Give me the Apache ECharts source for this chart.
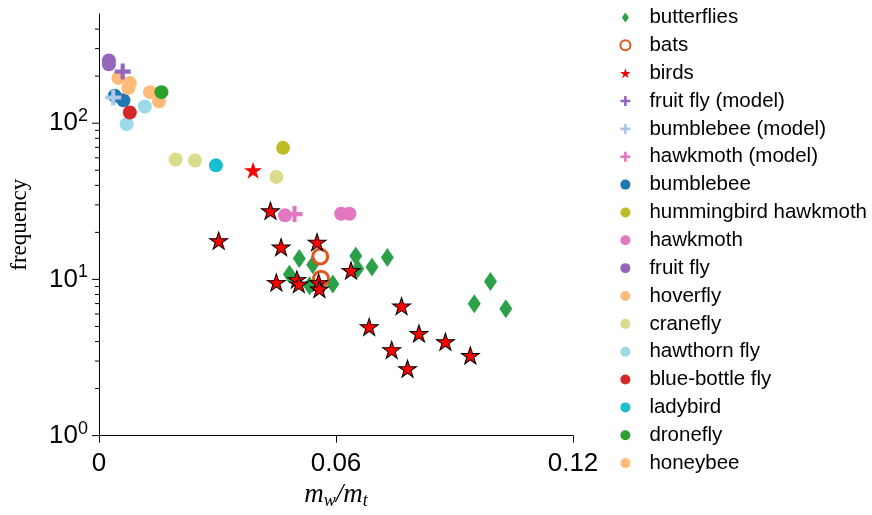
<!DOCTYPE html>
<html>
<head>
<meta charset="utf-8">
<script src="https://cdn.jsdelivr.net/npm/echarts@6/dist/echarts.min.js"></script>
<style>html,body{margin:0;padding:0;background:#fff;}#c{width:872px;height:515px;}</style>
</head>
<body>
<div id="c"></div>
<script>
// ---- data ----
const seriesNames = ['butterflies','bats','birds','fruit fly (model)','bumblebee (model)','hawkmoth (model)','bumblebee','hummingbird hawkmoth','hawkmoth','fruit fly','hoverfly','cranefly','hawthorn fly','blue-bottle fly','ladybird','dronefly','honeybee'];

const butterfliesX = [0.0507,0.0541,0.0482,0.0533,0.0592,0.0650,0.0655,0.0691,0.0730,0.0991,0.0950,0.1030];
const butterfliesY = [13.6,12.4,10.8,9.12,9.34,14.1,11.7,12.0,13.8,9.71,6.98,6.49];
const batsX = [0.0560,0.0562];
const batsY = [14.0,10.1];
const birdsX = [0.0390,0.0434,0.0303,0.0461,0.0552,0.0638,0.0449,0.0501,0.0506,0.0556,0.0558,0.0766,0.0684,0.0810,0.0877,0.0741,0.0940,0.0781];
const birdsY = [49.9,27.5,17.7,16.1,17.3,11.4,9.57,10.0,9.34,9.57,8.68,6.75,4.97,4.51,3.99,3.54,3.26,2.68];
const fruitFlyModelX = [0.0060];
const fruitFlyModelY = [214];
const bumblebeeModelX = [0.0036];
const bumblebeeModelY = [146];
const hawkmothModelX = [0.0495];
const hawkmothModelY = [26.2];
const bumblebeeX = [0.0040,0.0062];
const bumblebeeY = [150,140];
const hummingbirdX = [0.0466];
const hummingbirdY = [69.5];
const hawkmothX = [0.0471,0.0613,0.0634];
const hawkmothY = [25.7,26.3,26.3];
const fruitFlyX = [0.0025,0.0025];
const fruitFlyY = [252,238];
const hoverflyX = [0.0129,0.0152];
const hoverflyY = [158,138];
const craneflyX = [0.0194,0.0243,0.0449];
const craneflyY = [58.6,57.7,45.3];
const hawthornX = [0.0116,0.0070];
const hawthornY = [128,98.6];
const blueBottleX = [0.0078];
const blueBottleY = [117];
const ladybirdX = [0.0296];
const ladybirdY = [53.7];
const droneflyX = [0.0158];
const droneflyY = [158];
const honeybeeX = [0.0049,0.0078,0.0074];
const honeybeeY = [195,181,168];

const xTicks = [0, 0.06, 0.12];
const yMajorTicks = [1, 10, 100];
const yMinorTicks = [2,3,4,5,6,7,8,9,20,30,40,50,60,70,80,90,200,300,400];
const yMin = 1, yMax = 500;

// ---- helpers ----
const pts = (xs, ys) => xs.map((x, i) => [x, ys[i]]);
const STAR = 'path://M0,-10 L2.245,-3.09 L9.511,-3.09 L3.633,1.18 L5.878,8.09 L0,3.82 L-5.878,8.09 L-3.633,1.18 L-9.511,-3.09 L-2.245,-3.09 Z';
const PLUS = 'path://M-1.3,-5 H1.3 V-1.3 H5 V1.3 H1.3 V5 H-1.3 V1.3 H-5 V-1.3 H-1.3 Z';
const DIAMOND = 'path://M0,-10 L7,0 L0,10 L-7,0 Z';

function circ(name, xs, ys, color) {
  return { name, type: 'scatter', symbol: 'circle', symbolSize: 14, data: pts(xs, ys),
    itemStyle: { color, opacity: 1 }, z: 2 };
}
function plus(name, xs, ys, color) {
  return { name, type: 'scatter', symbol: PLUS, symbolSize: 16, symbolKeepAspect: true, data: pts(xs, ys),
    itemStyle: { color, opacity: 1 }, z: 4 };
}

const birdsData = birdsX.map((x, i) => i === 0
  ? { value: [x, birdsY[i]] }
  : { value: [x, birdsY[i]], itemStyle: { borderColor: '#000', borderWidth: 1 } });

const series = [
  { name: 'butterflies', type: 'scatter', symbol: 'diamond', symbolSize: [13, 19],
    data: pts(butterfliesX, butterfliesY), itemStyle: { color: '#2ca048', opacity: 1 }, z: 3 },
  { name: 'bats', type: 'scatter', symbol: 'circle', symbolSize: 15,
    data: pts(batsX, batsY), itemStyle: { color: 'rgba(255,255,255,0)', borderColor: '#e0561c', borderWidth: 3, opacity: 1 }, z: 3 },
  { name: 'birds', type: 'scatter', symbol: STAR, symbolSize: [18, 17],
    data: birdsData, itemStyle: { color: '#ff0000', opacity: 1 }, z: 3 },
  plus('fruit fly (model)', fruitFlyModelX, fruitFlyModelY, '#9467bd'),
  plus('bumblebee (model)', bumblebeeModelX, bumblebeeModelY, '#aec7e8'),
  plus('hawkmoth (model)', hawkmothModelX, hawkmothModelY, '#e377c2'),
  circ('bumblebee', bumblebeeX, bumblebeeY, '#1f77b4'),
  circ('hummingbird hawkmoth', hummingbirdX, hummingbirdY, '#bcbd22'),
  circ('hawkmoth', hawkmothX, hawkmothY, '#e377c2'),
  circ('fruit fly', fruitFlyX, fruitFlyY, '#9467bd'),
  circ('hoverfly', hoverflyX, hoverflyY, '#ffbb78'),
  circ('cranefly', craneflyX, craneflyY, '#dbdb8d'),
  circ('hawthorn fly', hawthornX, hawthornY, '#9edae5'),
  circ('blue-bottle fly', blueBottleX, blueBottleY, '#d62728'),
  circ('ladybird', ladybirdX, ladybirdY, '#17becf'),
  circ('dronefly', droneflyX, droneflyY, '#2ca02c'),
  circ('honeybee', honeybeeX, honeybeeY, '#ffbb78'),
  // y-axis tick marks (major + minor) through the axis scale
  { type: 'custom', silent: true, clip: false, z: 1,
    data: yMajorTicks.map(v => [0, v, 7]).concat(yMinorTicks.map(v => [0, v, 4])),
    encode: { x: 0, y: 1 },
    renderItem: function (params, api) {
      const p = api.coord([0, api.value(1)]);
      const len = api.value(2);
      return { type: 'line', shape: { x1: p[0] - len, y1: p[1], x2: p[0], y2: p[1] },
        style: { stroke: '#000', lineWidth: 1 } };
    } }
];

const legendData = seriesNames.map(n => n === 'butterflies' ? { name: n, icon: DIAMOND } : { name: n });

const chart = echarts.init(document.getElementById('c'), null, { renderer: 'canvas' });
chart.setOption({
  animation: false,
  backgroundColor: '#fff',
  grid: { left: 97, right: 299, top: 14, bottom: 76, containLabel: false },
  legend: {
    orient: 'vertical', right: 5, top: 7, padding: 0,
    itemWidth: 38, itemHeight: 10, itemGap: 6.85,
    data: legendData,
    textStyle: { fontFamily: 'Liberation Sans', fontSize: 20.5, color: '#000', lineHeight: 21 }
  },
  xAxis: {
    type: 'value', min: 0, max: 0.12, interval: 0.06,
    splitLine: { show: false },
    axisLine: { onZero: false, lineStyle: { color: '#000', width: 1 } },
    axisTick: { show: true, length: 7, inside: false, lineStyle: { color: '#000' } },
    axisLabel: { fontFamily: 'Liberation Sans', fontSize: 26, color: '#000', margin: 15,
      showMinLabel: true, showMaxLabel: true,
      formatter: v => (Math.abs(v) < 1e-9 ? '0' : String(+v.toFixed(2))) },
    name: '{m|m}{s|w}{m|/m}{s|t}', nameLocation: 'middle', nameGap: 38,
    nameTextStyle: { rich: {
      m: { fontFamily: 'Liberation Serif', fontStyle: 'italic', fontSize: 27, lineHeight: 30, color: '#000' },
      s: { fontFamily: 'Liberation Serif', fontStyle: 'italic', fontSize: 18, lineHeight: 14, verticalAlign: 'bottom', color: '#000' }
    } }
  },
  yAxis: {
    type: 'log', min: yMin, max: yMax, logBase: 10,
    splitLine: { show: false },
    axisLine: { show: true, lineStyle: { color: '#000', width: 1 } },
    axisTick: { show: false },
    minorTick: { show: false },
    axisLabel: {
      margin: 11,
      formatter: function (v) {
        const e = Math.round(Math.log10(v));
        if (Math.abs(Math.pow(10, e) - v) > 1e-6 * v) return '';
        return '{b|10}{s|' + e + '}';
      },
      rich: {
        b: { fontFamily: 'Liberation Sans', fontSize: 26, lineHeight: 32, color: '#000' },
        s: { fontFamily: 'Liberation Sans', fontSize: 18, lineHeight: 14, verticalAlign: 'top', color: '#000' }
      }
    },
    name: 'frequency', nameLocation: 'middle', nameGap: 68,
    nameTextStyle: { fontFamily: 'Liberation Serif', fontSize: 23, color: '#000' }
  },
  series: series
});
</script>
</body>
</html>
